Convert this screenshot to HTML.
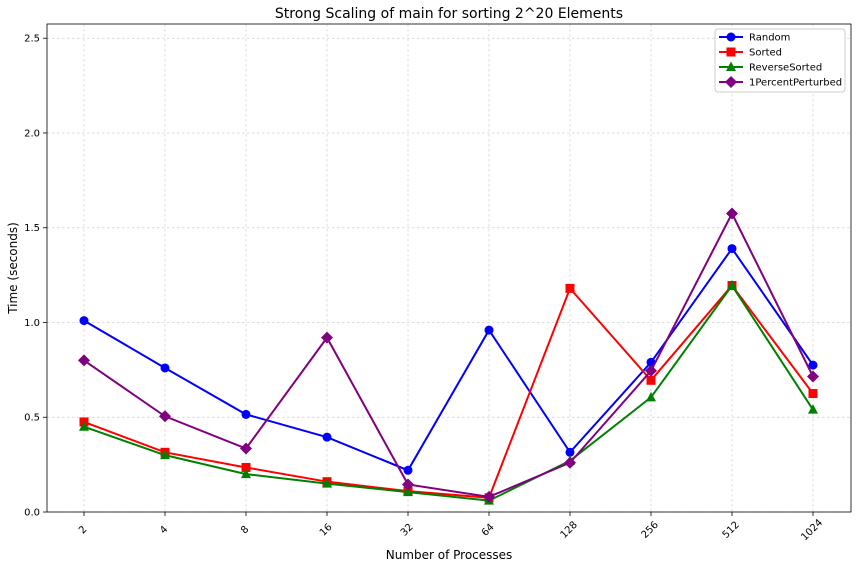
<!DOCTYPE html>
<html><head><meta charset="utf-8"><style>
body{margin:0;background:#fff;font-family:"Liberation Sans","DejaVu Sans",sans-serif}
svg text{font-family:"DejaVu Sans","Liberation Sans",sans-serif}
</style></head><body>
<svg id="chart" width="856" height="568" xmlns="http://www.w3.org/2000/svg"></svg>
<script>
const categories=["2","4","8","16","32","64","128","256","512","1024"];
const yTicks=[0,0.5,1.0,1.5,2.0,2.5];
const yTickLabels=["0.0","0.5","1.0","1.5","2.0","2.5"];
const seriesNames=["Random","Sorted","ReverseSorted","1PercentPerturbed"];
const randomVals=[1.01,0.76,0.515,0.395,0.22,0.96,0.315,0.79,1.39,0.775];
const sortedVals=[0.475,0.315,0.235,0.16,0.11,0.075,1.18,0.695,1.195,0.625];
const reverseVals=[0.45,0.3,0.2,0.15,0.105,0.06,0.27,0.605,1.195,0.54];
const perturbedVals=[0.8,0.505,0.335,0.92,0.145,0.08,0.26,0.745,1.575,0.715];

const NS="http://www.w3.org/2000/svg";
const svg=document.getElementById('chart');
const L=47,R=851,T=24,B=512,YMAX=2.575;
const xs=i=>84+i*(813-84)/(categories.length-1);
const ys=v=>B-v*(B-T)/YMAX;
function mk(tag,attrs,parent){const e=document.createElementNS(NS,tag);for(const k in attrs)e.setAttribute(k,attrs[k]);(parent||svg).appendChild(e);return e;}

const grid=mk('g',{});


categories.forEach((c,i)=>{
  mk('line',{x1:xs(i),x2:xs(i),y1:T,y2:B,stroke:'#b0b0b0','stroke-width':0.7,'stroke-dasharray':'2.5,2.5',opacity:0.6},grid);
  mk('line',{x1:xs(i),x2:xs(i),y1:B,y2:B+4,stroke:'#000','stroke-width':0.8});
  const t=mk('text',{x:0,y:0,'font-size':10,'text-anchor':'middle',transform:`translate(${xs(i)+1},${B+20}) rotate(-45)`});
  t.textContent=c;
  
  
});
yTicks.forEach((v,i)=>{
  mk('line',{x1:L,x2:R,y1:ys(v),y2:ys(v),stroke:'#b0b0b0','stroke-width':0.7,'stroke-dasharray':'2.5,2.5',opacity:0.6},grid);
  mk('line',{x1:L-4,x2:L,y1:ys(v),y2:ys(v),stroke:'#000','stroke-width':0.8});
  const t=mk('text',{x:L-7,y:ys(v)+3.5,'font-size':10,'text-anchor':'end'});
  t.textContent=yTickLabels[i];
  
  
});
const frame=mk('rect',{x:L,y:T,width:R-L,height:B-T,fill:'none',stroke:'#000','stroke-width':0.8});



const title=mk('text',{x:(L+R)/2,y:18,'font-size':14,'text-anchor':'middle'});
title.textContent="Strong Scaling of main for sorting 2^20 Elements";


const xt=mk('text',{x:(L+R)/2,y:559,'font-size':12,'text-anchor':'middle'});
xt.textContent="Number of Processes";


const yt=mk('text',{x:0,y:0,'font-size':12,'text-anchor':'middle',transform:`translate(17,${(T+B)/2}) rotate(-90)`});
yt.textContent="Time (seconds)";



function marker(shape,x,y,color,parent){
  if(shape==='o') return mk('circle',{cx:x,cy:y,r:4.5,fill:color},parent);
  if(shape==='s') return mk('rect',{x:x-4.5,y:y-4.5,width:9,height:9,fill:color},parent);
  if(shape==='^') return mk('polygon',{points:`${x},${y-5.5} ${x+5},${y+4} ${x-5},${y+4}`,fill:color},parent);
  return mk('polygon',{points:`${x},${y-6} ${x+6},${y} ${x},${y+6} ${x-6},${y}`,fill:color},parent);
}
const allVals=[randomVals,sortedVals,reverseVals,perturbedVals];
const colors=["#0000ff","#ff0000","#008000","#800080"];
const shapes=["o","s","^","D"];
allVals.forEach((vals,si)=>{
  const g=mk('g',{});
  
  
  mk('polyline',{points:vals.map((v,i)=>xs(i)+','+ys(v)).join(' '),fill:'none',stroke:colors[si],'stroke-width':2},g);
  vals.forEach((v,i)=>{
    const m=marker(shapes[si],xs(i),ys(v),colors[si],g);
    
    
  });
});
const lg=mk('g',{});


mk('rect',{x:715,y:29,width:130,height:63,rx:3,fill:'#fff',stroke:'#ccc','stroke-width':1},lg);
seriesNames.forEach((n,i)=>{
  const y=37+i*15;
  const e=mk('g',{},lg);
  
  
  mk('line',{x1:719,x2:743,y1:y,y2:y,stroke:colors[i],'stroke-width':2},e);
  marker(shapes[i],731,y,colors[i],e);
  const t=mk('text',{x:749,y:y+3.5,'font-size':10},e);
  t.textContent=n;
});
</script>
</body></html>
